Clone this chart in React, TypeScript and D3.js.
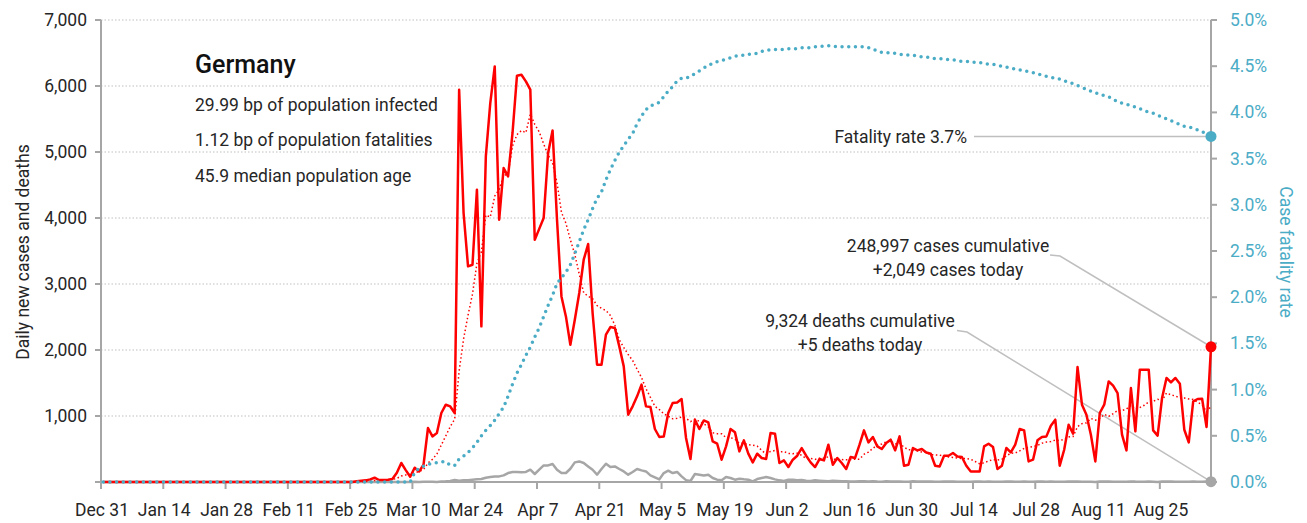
import React from "react";
import * as d3 from "d3";

// ---------- DATA (index 0 = Dec 31, 2019; one value per day) ----------
const xTickLabels = ["Dec 31","Jan 14","Jan 28","Feb 11","Feb 25","Mar 10","Mar 24","Apr 7","Apr 21","May 5","May 19","Jun 2","Jun 16","Jun 30","Jul 14","Jul 28","Aug 11","Aug 25"];
const leftTicks = [1000, 2000, 3000, 4000, 5000, 6000, 7000];
const rightTicks = [0, 0.005, 0.01, 0.015, 0.02, 0.025, 0.03, 0.035, 0.04, 0.045, 0.05];

const dailyCases = [
  0,0,0,0,0,0,0,0,0,0, 0,0,0,0,0,0,0,0,0,0, 0,0,0,0,0,0,0,0,0,0,
  0,0,0,0,0,0,0,0,0,0, 0,0,0,0,0,0,0,0,0,0, 0,0,0,0,0,0,0,
  10,20,25,40,65,30,30,35,45,140,288,180,80,
  216,160,262,818,691,742,1045,1171,1145,1045,
  5942,4076,3267,3292,4429,2358,4933,5742,6297,3974,
  4757,4631,5288,6156,6171,6070,5944,3671,3835,4000,
  4985,5327,3974,2812,2509,2080,2459,2864,3368,3606,
  2561,1777,1777,2232,2348,2333,2055,1752,1020,1146,
  1298,1475,1146,1136,803,682,691,1045,1197,1206,
  1258,667,348,944,803,933,903,615,580,338,
  540,803,752,464,631,429,297,429,364,348,
  742,732,288,327,227,338,398,515,398,297,
  227,348,327,565,262,364,288,197,379,364,
  565,782,600,682,540,500,591,641,479,691,
  247,262,515,479,500,448,429,247,236,398,
  398,439,388,379,247,160,160,160,540,580,
  530,197,247,515,448,565,803,782,312,338,
  631,682,691,853,944,247,489,868,732,1742,
  1171,1020,717,312,1045,1171,1524,1459,1348,717,
  479,1424,767,1702,1702,1702,782,702,1273,1576,
  1509,1576,1489,792,600,1221,1258,1262,833,2049
];

const dailyDeaths = [
  0,0,0,0,0,0,0,0,0,0, 0,0,0,0,0,0,0,0,0,0, 0,0,0,0,0,0,0,0,0,0,
  0,0,0,0,0,0,0,0,0,0, 0,0,0,0,0,0,0,0,0,0, 0,0,0,0,0,0,0,0,0,0,
  0,0,0,0,0,0,0,0,0,0,
  2,0,3,2,4,1,8,11,16,30,
  20,25,28,35,40,45,65,75,85,85,
  100,136,152,150,146,152,186,121,186,251,
  251,273,186,136,136,201,297,312,288,236,
  186,111,197,277,227,236,197,160,111,152,
  197,176,160,100,70,40,136,171,136,152,
  85,28,15,121,111,100,111,60,35,25,
  75,60,35,50,40,35,10,45,60,75,
  60,40,25,15,35,35,25,30,20,15,
  25,20,15,10,20,15,10,12,8,6,
  12,10,8,10,6,4,10,8,9,7,
  4,5,10,8,6,9,7,4,3,6,
  6,7,5,4,3,2,7,6,5,6,
  4,3,2,6,7,5,4,6,3,2,
  7,8,5,6,5,3,2,8,7,6,
  5,4,2,1,7,8,6,5,3,2,
  2,9,6,5,4,6,3,1,7,6,
  6,4,3,5,4,6,3,2,9,5
];

// case fatality rate (%), cumulative deaths / cumulative cases
const fatalityRate = [
  0,0,0,0,0,0,0,0,0,0, 0,0,0,0,0,0,0,0,0,0, 0,0,0,0,0,0,0,0,0,0,
  0,0,0,0,0,0,0,0,0,0, 0,0,0,0,0,0,0,0,0,0, 0,0,0,0,0,0,0,0,0,0,
  0,0,0,0,0,0,0,0,0,0,
  0.10,0.15,0.17,0.19,0.20,0.21,0.22,0.22,0.18,0.18,
  0.25,0.28,0.32,0.37,0.43,0.50,0.56,0.61,0.67,0.74,
  0.81,0.93,1.06,1.18,1.27,1.37,1.46,1.57,1.67,1.79,
  1.91,2.02,2.15,2.21,2.27,2.35,2.47,2.60,2.73,2.84,
  2.96,3.07,3.14,3.27,3.38,3.48,3.57,3.64,3.71,3.77,
  3.88,3.96,4.03,4.07,4.09,4.11,4.17,4.23,4.28,4.34,
  4.37,4.37,4.39,4.42,4.45,4.48,4.51,4.53,4.55,4.56,
  4.58,4.59,4.61,4.61,4.62,4.63,4.63,4.64,4.66,4.67,
  4.68,4.68,4.68,4.68,4.69,4.69,4.69,4.70,4.70,4.70,
  4.71,4.71,4.72,4.72,4.72,4.71,4.71,4.71,4.71,4.71,
  4.71,4.71,4.70,4.68,4.67,4.65,4.65,4.64,4.64,4.63,
  4.62,4.62,4.62,4.61,4.60,4.60,4.59,4.58,4.58,4.58,
  4.57,4.57,4.56,4.55,4.55,4.55,4.54,4.54,4.53,4.52,
  4.52,4.51,4.50,4.49,4.48,4.47,4.46,4.45,4.44,4.43,
  4.42,4.40,4.39,4.38,4.37,4.36,4.34,4.33,4.31,4.29,
  4.27,4.25,4.23,4.21,4.20,4.18,4.17,4.14,4.12,4.10,
  4.09,4.07,4.06,4.04,4.02,4.00,3.99,3.97,3.95,3.93,
  3.91,3.89,3.87,3.85,3.84,3.83,3.81,3.79,3.77,3.74
];

const statLines = [
  "29.99 bp of population infected",
  "1.12 bp of population fatalities",
  "45.9 median population age",
];

const FONT = "Roboto, 'Liberation Sans', Arial, sans-serif";
const TEAL = "#4bacc6";
const RED = "#ff0000";
const GREY = "#a6a6a6";
const TEXT = "#262626";

export default function App() {
  const n = dailyCases.length;
  const x = d3.scaleLinear().domain([0, n - 0.5]).range([101, 1211]);
  const y = d3.scaleLinear().domain([0, 7000]).range([482, 20]);
  const y2 = d3.scaleLinear().domain([0, 0.05]).range([482, 20]);
  const px = (i: number) => x(i + 0.5);

  const idx = d3.range(n);
  const avg = idx.slice(6).map((i) => [i, d3.mean(dailyCases.slice(i - 6, i + 1)) as number]);

  const lineCases = d3.line<number>().x((i) => px(i)).y((i) => y(dailyCases[i]))(idx) as string;
  const lineDeaths = d3.line<number>().x((i) => px(i)).y((i) => y(dailyDeaths[i] ?? 0))(idx) as string;
  const lineCfr = d3.line<number>().x((i) => px(i)).y((i) => y2(fatalityRate[i] / 100))(idx) as string;
  const lineAvg = d3.line<number[]>().x((d) => px(d[0])).y((d) => y(d[1]))(avg) as string;

  const last = n - 1;
  const lx = px(last);
  const fmtL = d3.format(",");
  const fmtR = d3.format(".1%");
  const cfrY = y2(fatalityRate[last] / 100);
  const caseY = y(dailyCases[last]);
  const deathY = y(dailyDeaths[last] ?? 0);

  return (
    <svg width={1307} height={523} style={{ position: "absolute", left: 0, top: 0, fontFamily: FONT }}>
      <rect width={1307} height={523} fill="#fff" />
      {/* gridlines */}
      {leftTicks.map((t) => (
        <line key={"g" + t} x1={101} x2={1211} y1={y(t)} y2={y(t)} stroke="#bfbfbf" strokeWidth={1} strokeDasharray="1.5,2" />
      ))}
      {/* axes */}
      <line x1={101} x2={101} y1={20} y2={483} stroke={GREY} strokeWidth={2} />
      <line x1={1211} x2={1211} y1={20} y2={483} stroke={GREY} strokeWidth={2} />
      <line x1={100} x2={1212} y1={482} y2={482} stroke={GREY} strokeWidth={2} />
      {[0, ...leftTicks].map((t) => (
        <line key={"lt" + t} x1={95} x2={101} y1={y(t)} y2={y(t)} stroke={GREY} strokeWidth={2} />
      ))}
      {leftTicks.map((t) => (
        <text key={"ll" + t} x={87} y={y(t) + 6} textAnchor="end" fontSize={17.5} fill={TEXT}>{fmtL(t)}</text>
      ))}
      {rightTicks.map((t) => (
        <g key={"rt" + t}>
          <line x1={1211} x2={1217} y1={y2(t)} y2={y2(t)} stroke={GREY} strokeWidth={2} />
          <text x={1230} y={y2(t) + 6} fontSize={17.5} fill={TEAL}>{fmtR(t)}</text>
        </g>
      ))}
      {xTickLabels.map((lab, k) => {
        const xx = x(k * 14);
        return (
          <g key={lab}>
            <line x1={xx} x2={xx} y1={482} y2={489} stroke={GREY} strokeWidth={2} />
            <text x={xx + 1} y={516} textAnchor="middle" fontSize={17.5} fill={TEXT}>{lab}</text>
          </g>
        );
      })}
      <text transform="translate(29,252) rotate(-90)" textAnchor="middle" fontSize={17.5} fill={TEXT}>Daily new cases and deaths</text>
      <text transform="translate(1280,252) rotate(90)" textAnchor="middle" fontSize={17.5} fill={TEAL}>Case fatality rate</text>

      {/* title block */}
      <text x={195} y={73} fontSize={25} fontWeight={500} fill={"#111"}>Germany</text>
      {statLines.map((s, k) => (
        <text key={s} x={195} y={111 + k * 35.3} fontSize={17.5} fill={TEXT}>{s}</text>
      ))}

      {/* leader lines */}
      <line x1={974} x2={lx} y1={cfrY} y2={cfrY} stroke="#bfbfbf" strokeWidth={1.5} />
      <polyline points={`1050,255 1060,256 ${lx},${caseY}`} fill="none" stroke="#bfbfbf" strokeWidth={1.5} />
      <polyline points={`957,330.5 967,332 ${lx},${deathY}`} fill="none" stroke="#bfbfbf" strokeWidth={1.5} />

      {/* series */}
      <path d={lineDeaths} fill="none" stroke={GREY} strokeWidth={2.5} strokeLinejoin="round" />
      <path d={lineCases} fill="none" stroke={RED} strokeWidth={2.5} strokeLinejoin="round" />
      <path d={lineAvg} fill="none" stroke={RED} strokeWidth={1.5} strokeDasharray="1.5,2.5" />
      <path d={lineCfr} fill="none" stroke={TEAL} strokeWidth={3.5} strokeLinecap="round" strokeDasharray="0,6.7" />

      <circle cx={lx} cy={cfrY} r={5.5} fill={TEAL} />
      <circle cx={lx} cy={caseY} r={5.5} fill={RED} />
      <circle cx={lx} cy={deathY} r={5.5} fill={GREY} />

      {/* annotations */}
      <text x={967} y={143} textAnchor="end" fontSize={17.5} fill={TEXT}>Fatality rate 3.7%</text>
      <text x={948} y={252} textAnchor="middle" fontSize={17.5} fill={TEXT}>248,997 cases cumulative</text>
      <text x={948} y={276} textAnchor="middle" fontSize={17.5} fill={TEXT}>+2,049 cases today</text>
      <text x={860} y={327} textAnchor="middle" fontSize={17.5} fill={TEXT}>9,324 deaths cumulative</text>
      <text x={860} y={351} textAnchor="middle" fontSize={17.5} fill={TEXT}>+5 deaths today</text>
    </svg>
  );
}
